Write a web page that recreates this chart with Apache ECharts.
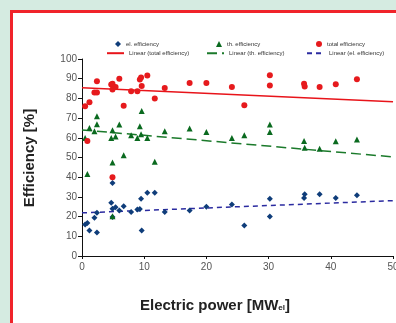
<!DOCTYPE html>
<html>
<head>
<meta charset="utf-8">
<script src="https://cdn.jsdelivr.net/npm/echarts@6/dist/echarts.min.js"></script>
<style>
  html, body { margin: 0; padding: 0; background: #d5ebe1; }
  #frame {
    position: absolute; left: 10px; top: 10px;
    width: 420px; height: 340px;
    border: 3px solid #f0232a; background: #fff;
  }
  #chart { position: absolute; left: 0; top: 0; width: 396px; height: 323px; }
</style>
</head>
<body>
<div id="frame"></div>
<div id="chart"></div>
<script>
// electric power of each plant [MWel]
const power = [0.5, 0.86, 1.2, 2.0, 2.4, 2.4, 4.7, 4.9, 4.9, 4.9, 5.4, 6.0, 6.7, 7.9, 8.9, 9.3,
  9.5, 9.6, 10.5, 11.7, 13.3, 17.3, 20, 24.1, 26.1, 30.2, 30.2, 35.7, 35.8, 38.2, 40.8, 44.2]
const elEff = [16, 16.7, 13, 19.4, 22, 11.9, 27, 37, 24, 19.8, 24.8, 23.1, 25.2, 22.3, 23.6, 23.8,
  29.1, 13, 32.1, 32.1, 22.3, 23.1, 25, 26.2, 15.5, 29.1, 20.1, 29.4, 31.3, 31.4, 29.4, 30.8]
const thEff = [59.9, 41.6, 65, 63.3, 66.9, 71, 59.9, 47.4, 63.8, 20.2, 60.7, 66.7, 51.1, 61.3, 59.9, 65.8,
  61.8, 73.6, 59.9, 47.9, 63.3, 64.7, 63, 59.9, 61.3, 62.9, 66.7, 58.4, 55, 54.5, 58.2, 59.2]
const totalEff = [76, 58.4, 78, 83, 88.7, 83, 87, 84.5, 87.5, 40, 85.8, 90, 76.3, 83.6, 83.6, 89.6,
  90.6, 86.3, 91.6, 79.9, 85.3, 87.8, 87.8, 85.8, 76.5, 91.8, 86.5, 87.5, 86, 85.8, 87.2, 89.7]

// linear trend lines, read at both ends of the axis
const trendX = [0, 50]
const totalTrend = [85.4, 78.3]
const thTrend = [64.0, 50.3]
const elTrend = [21.9, 28.1]

const pairs = (xs, ys) => xs.map((x, i) => [x, ys[i]])

const chart = echarts.init(document.getElementById('chart'), null, { renderer: 'canvas' })

const legendText = { fontSize: 6, color: '#333', fontFamily: 'Liberation Sans, Arial, sans-serif' }
function markerLegend(name, left) {
  return {
    data: [name], left: left, top: 41, padding: 0,
    itemWidth: 6, itemHeight: 6, itemGap: 0,
    textStyle: legendText
  }
}
function lineLegend(name, left) {
  return {
    data: [name], left: left, top: 50, padding: 0,
    itemWidth: 17, itemHeight: 8, itemGap: 0,
    itemStyle: { opacity: 0 },
    textStyle: legendText
  }
}

const option = {
  animation: false,
  textStyle: { fontFamily: 'Liberation Sans, Arial, sans-serif' },
  grid: { left: 82, top: 59, width: 311, height: 197, outerBoundsMode: 'none', containLabel: false },
  legend: [
    markerLegend('el. efficiency', 115),
    markerLegend('th. efficiency', 216),
    markerLegend('total efficiency', 316),
    lineLegend('Linear (total efficiency)', 106),
    lineLegend('Linear (th. efficiency)', 206),
    lineLegend('Linear (el. efficiency)', 306)
  ],
  xAxis: {
    type: 'value', min: 0, max: 50, interval: 10,
    splitLine: { show: false },
    axisLine: { lineStyle: { color: '#111', width: 1 } },
    axisTick: { show: true, length: 3, lineStyle: { color: '#111' } },
    axisLabel: { color: '#555', fontSize: 10, margin: 6 }
  },
  yAxis: {
    type: 'value', min: 0, max: 100, interval: 10,
    splitLine: { show: false },
    axisLine: { show: true, lineStyle: { color: '#111', width: 1 } },
    axisTick: { show: true, length: 4, lineStyle: { color: '#111' } },
    axisLabel: { color: '#555', fontSize: 10, margin: 5 }
  },
  graphic: [
    {
      type: 'text', x: 30, y: 158, rotation: Math.PI / 2,
      style: {
        text: 'Efficiency [%]', fill: '#222',
        font: 'bold 15px Liberation Sans, Arial, sans-serif',
        align: 'center', verticalAlign: 'middle'
      }
    },
    {
      type: 'text', x: 215, y: 306,
      style: {
        text: '{a|Electric power [MW}{b|el}{a|]}',
        align: 'center', verticalAlign: 'middle',
        rich: {
          a: { font: 'bold 15px Liberation Sans, Arial, sans-serif', fill: '#222' },
          b: { font: 'bold 8px Liberation Sans, Arial, sans-serif', fill: '#222', padding: [4, 0, 0, 0] }
        }
      }
    }
  ],
  series: [
    {
      name: 'Linear (total efficiency)', type: 'line', data: pairs(trendX, totalTrend),
      symbol: 'none', z: 1,
      lineStyle: { color: '#e8141a', width: 1.5 }, itemStyle: { color: '#e8141a' }
    },
    {
      name: 'Linear (th. efficiency)', type: 'line', data: pairs(trendX, thTrend),
      symbol: 'none', z: 1,
      lineStyle: { color: '#1b7a2b', width: 1.5, type: [10, 5] }, itemStyle: { color: '#1b7a2b' }
    },
    {
      name: 'Linear (el. efficiency)', type: 'line', data: pairs(trendX, elTrend),
      symbol: 'none', z: 1,
      lineStyle: { color: '#2b2ba0', width: 1.5, type: [5, 4] }, itemStyle: { color: '#2b2ba0' }
    },
    {
      name: 'el. efficiency', type: 'scatter', data: pairs(power, elEff),
      symbol: 'diamond', symbolSize: 6, z: 3,
      itemStyle: { color: '#0f3d7a', opacity: 1 }
    },
    {
      name: 'th. efficiency', type: 'scatter', data: pairs(power, thEff),
      symbol: 'triangle', symbolSize: 6, z: 3,
      itemStyle: { color: '#0a6a1f', opacity: 1 }
    },
    {
      name: 'total efficiency', type: 'scatter', data: pairs(power, totalEff),
      symbol: 'circle', symbolSize: 6, z: 3,
      itemStyle: { color: '#e61a1d', opacity: 1 }
    }
  ]
}

chart.setOption(option)
</script>
</body>
</html>
